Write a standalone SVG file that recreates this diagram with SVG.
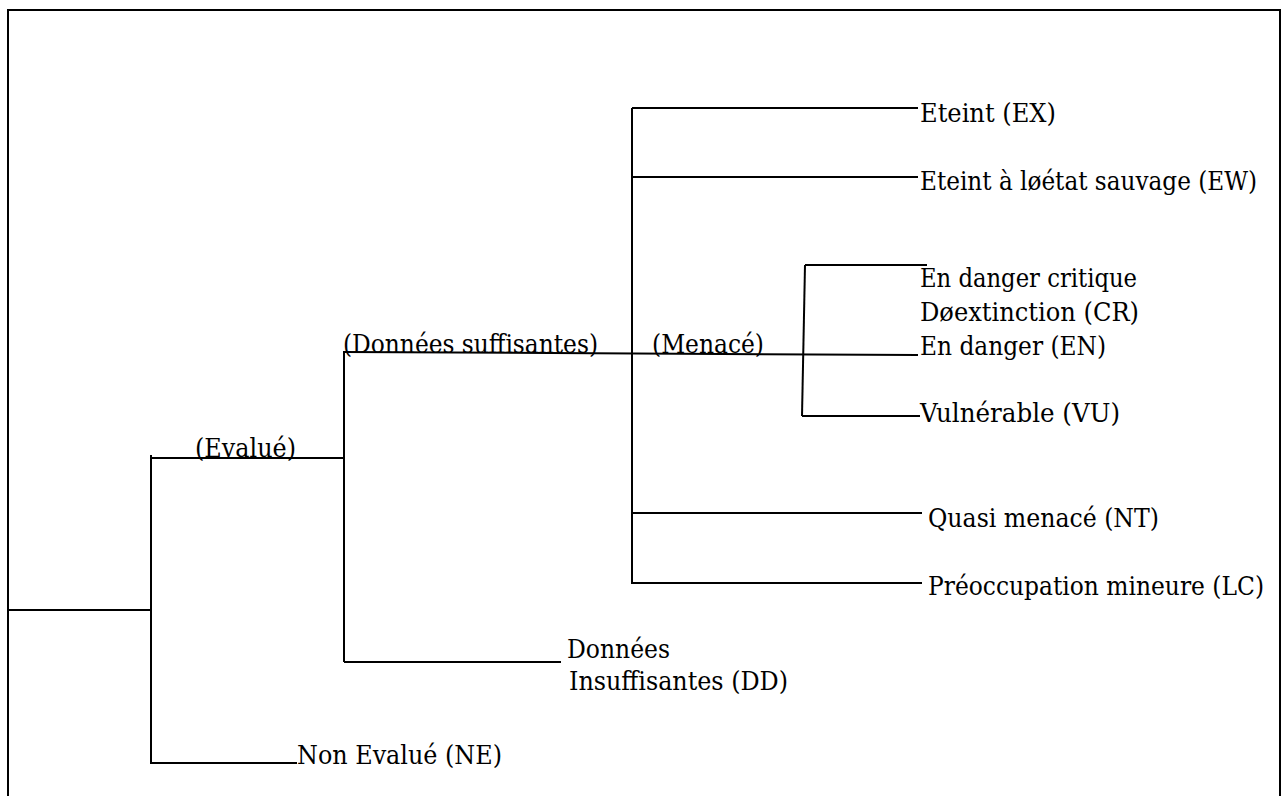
<svg xmlns="http://www.w3.org/2000/svg" width="1286" height="796" viewBox="0 0 1286 796">
<style>
.ln{stroke:#000;stroke-width:2;fill:none}
text{font-family:'DejaVu Serif Condensed','DejaVu Serif',serif;font-stretch:condensed;font-size:26px;fill:#000}
</style>
<rect width="1286" height="796" fill="#fff"/>
<path class="ln" d="M8,796 V10 H1280 V796"/>
<g id="connectors">
<line class="ln" x1="8" y1="610" x2="151" y2="610"/>
<line class="ln" x1="151" y1="455" x2="151" y2="764"/>
<line class="ln" x1="151" y1="458" x2="344" y2="458"/>
<line class="ln" x1="151" y1="763" x2="297" y2="763"/>
<line class="ln" x1="344" y1="351" x2="344" y2="662"/>
<line class="ln" x1="344" y1="662" x2="561" y2="662"/>
<line class="ln" x1="344" y1="352" x2="918" y2="355"/>
<line class="ln" x1="632" y1="108" x2="632" y2="584"/>
<line class="ln" x1="632" y1="108" x2="918" y2="108"/>
<line class="ln" x1="632" y1="177" x2="918" y2="177"/>
<line class="ln" x1="805" y1="265" x2="802" y2="416"/>
<line class="ln" x1="805" y1="265" x2="927" y2="265"/>
<line class="ln" x1="802" y1="416" x2="920" y2="416"/>
<line class="ln" x1="632" y1="513" x2="922" y2="513"/>
<line class="ln" x1="632" y1="583" x2="922" y2="583"/>
</g>
<g id="node-ex"><text x="920" y="122" textLength="136" lengthAdjust="spacingAndGlyphs">Eteint (EX)</text></g>
<g id="node-ew"><text x="920" y="190" textLength="337" lengthAdjust="spacingAndGlyphs">Eteint à løétat sauvage (EW)</text></g>
<g id="node-cr"><text x="920" y="287" textLength="217" lengthAdjust="spacingAndGlyphs">En danger critique</text><text x="920" y="321" textLength="219" lengthAdjust="spacingAndGlyphs">Døextinction (CR)</text></g>
<g id="node-en"><text x="920" y="355" textLength="186" lengthAdjust="spacingAndGlyphs">En danger (EN)</text></g>
<g id="node-vu"><text x="920" y="422" textLength="200" lengthAdjust="spacingAndGlyphs">Vulnérable (VU)</text></g>
<g id="node-nt"><text x="928" y="527" textLength="231" lengthAdjust="spacingAndGlyphs">Quasi menacé (NT)</text></g>
<g id="node-lc"><text x="928" y="595" textLength="336" lengthAdjust="spacingAndGlyphs">Préoccupation mineure (LC)</text></g>
<g id="node-ds"><text x="343" y="353" textLength="255" lengthAdjust="spacingAndGlyphs">(Données suffisantes)</text></g>
<g id="node-menace"><text x="652" y="353" textLength="112" lengthAdjust="spacingAndGlyphs">(Menacé)</text></g>
<g id="node-evalue"><text x="195" y="457" textLength="101" lengthAdjust="spacingAndGlyphs">(Evalué)</text></g>
<g id="node-dd"><text x="567" y="658" textLength="103" lengthAdjust="spacingAndGlyphs">Données</text><text x="569" y="690" textLength="219" lengthAdjust="spacingAndGlyphs">Insuffisantes (DD)</text></g>
<g id="node-ne"><text x="297" y="764" textLength="205" lengthAdjust="spacingAndGlyphs">Non Evalué (NE)</text></g>
</svg>
